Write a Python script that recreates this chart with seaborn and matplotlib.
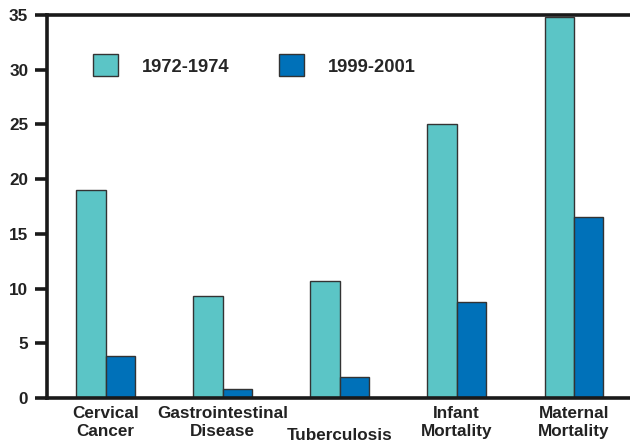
import pandas as pd
import matplotlib
matplotlib.use("Agg")
import matplotlib.pyplot as plt
import seaborn as sns

categories = ["Cervical\nCancer", "Gastrointestinal\nDisease", "\nTuberculosis",
              "Infant\nMortality", "Maternal\nMortality"]
periods = ["1972-1974", "1999-2001"]
vals_1972 = [19.0, 9.3, 10.7, 25.0, 34.8]
vals_1999 = [3.8, 0.8, 1.9, 8.8, 16.5]
colors = ["#5BC5C6", "#0071B9"]

df = pd.DataFrame({
    "cause": categories * 2,
    "period": [periods[0]] * 5 + [periods[1]] * 5,
    "value": vals_1972 + vals_1999,
})

sns.set_style("ticks")
plt.rcParams["font.family"] = ["Liberation Sans", "DejaVu Sans"]
plt.rcParams["font.weight"] = "bold"

fig = plt.figure(figsize=(6.3, 4.44), dpi=100)
ax = fig.add_axes([47 / 630, 46 / 444, 1 - 47 / 630, 383 / 444])

sns.barplot(
    data=df, x="cause", y="value", hue="period",
    palette=colors, saturation=1, width=0.5,
    edgecolor="#333333", linewidth=1.0, ax=ax, legend=True
)

ax.set_xlim(-0.5, 4.48)
ax.set_ylim(0, 35)
ax.set_yticks(range(0, 36, 5))
ax.set_xlabel("")
ax.set_ylabel("")

for side in ["top", "left", "bottom"]:
    ax.spines[side].set_linewidth(2.6)
    ax.spines[side].set_color("#1a1a1a")
ax.spines["right"].set_visible(False)

ax.tick_params(axis="y", length=8.5, width=2.6, color="#1a1a1a",
               labelsize=12.3, pad=5, labelcolor="#222222")
ax.tick_params(axis="x", length=0, labelsize=12.3, pad=6, labelcolor="#222222")
for lbl in ax.get_yticklabels() + ax.get_xticklabels():
    lbl.set_fontweight("bold")
# Tuberculosis sits a little lower than the other labels
ax.get_xticklabels()[2].set_y(-0.012)

ax.legend(
    loc="upper left", bbox_to_anchor=(0.05, 0.94), ncol=2, frameon=False,
    handlelength=1.37, handleheight=1.47,
    handletextpad=1.3, columnspacing=2.7,
    prop={"weight": "bold", "size": 13.2},
)

fig.savefig("out.png", dpi=100)
